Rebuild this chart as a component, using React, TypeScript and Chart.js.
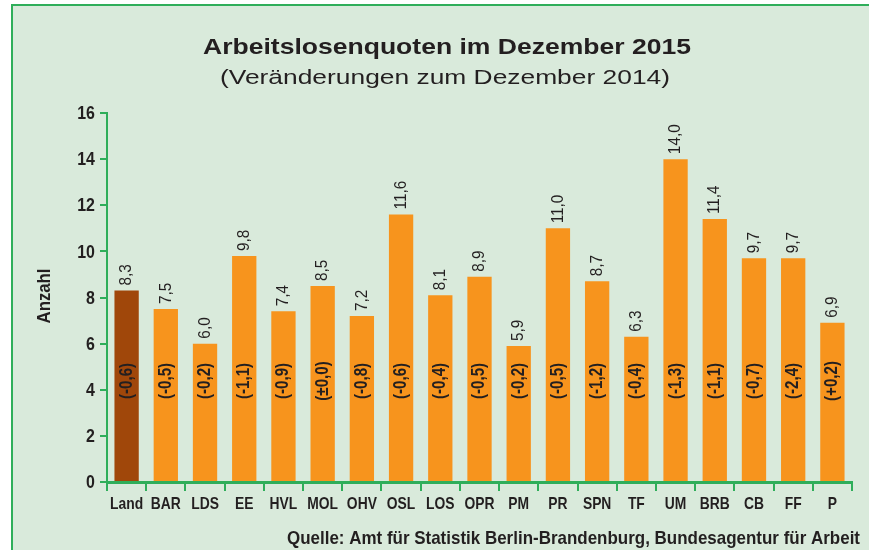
import React, { useEffect, useRef } from "react";
import { Chart, registerables } from "chart.js";

Chart.register(...registerables);

const categories = ["Land", "BAR", "LDS", "EE", "HVL", "MOL", "OHV", "OSL", "LOS", "OPR", "PM", "PR", "SPN", "TF", "UM", "BRB", "CB", "FF", "P"];
const quotes = [8.3, 7.5, 6.0, 9.8, 7.4, 8.5, 7.2, 11.6, 8.1, 8.9, 5.9, 11.0, 8.7, 6.3, 14.0, 11.4, 9.7, 9.7, 6.9];
const changes = ["(-0,6)", "(-0,5)", "(-0,2)", "(-1,1)", "(-0,9)", "(±0,0)", "(-0,8)", "(-0,6)", "(-0,4)", "(-0,5)", "(-0,2)", "(-0,5)", "(-1,2)", "(-0,4)", "(-1,3)", "(-1,1)", "(-0,7)", "(-2,4)", "(+0,2)"];
const yMin = 0;
const yMax = 16;
const yStep = 2;
const changeLabelLevel = 4.38;

const titleText = "Arbeitslosenquoten im Dezember 2015";
const subtitleText = "(Veränderungen zum Dezember 2014)";
const yTitle = "Anzahl";
const sourceText = "Quelle: Amt für Statistik Berlin-Brandenburg, Bundesagentur für Arbeit";

const SANS = "'Liberation Sans', Arial, Helvetica, sans-serif";
const TEXT = "#231f20";
const GREEN = "#2fae5a";
const BG = "#d9eadb";
const ORANGE = "#f7941d";
const BROWN = "#a0470a";
const NARROW = 0.84;

function fmt(v: number) {
  return v.toFixed(1).replace(".", ",");
}

function drawFitText(ctx: CanvasRenderingContext2D, text: string, font: string, x: number, baseline: number, targetWidth: number, align: "center" | "right") {
  ctx.save();
  ctx.font = font;
  const w = ctx.measureText(text).width;
  const sx = targetWidth / w;
  ctx.textBaseline = "alphabetic";
  ctx.textAlign = "left";
  const left = align === "center" ? x - targetWidth / 2 : x - targetWidth;
  ctx.translate(left, baseline);
  ctx.scale(sx, 1);
  ctx.fillStyle = TEXT;
  ctx.fillText(text, 0, 0);
  ctx.restore();
}

function drawNarrow(
  ctx: CanvasRenderingContext2D,
  text: string,
  font: string,
  x: number,
  y: number,
  align: CanvasTextAlign,
  baseline: CanvasTextBaseline,
  sx: number,
  rotated: boolean
) {
  ctx.save();
  ctx.translate(x, y);
  if (rotated) ctx.rotate(-Math.PI / 2);
  ctx.scale(sx, 1);
  ctx.font = font;
  ctx.fillStyle = TEXT;
  ctx.textAlign = align;
  ctx.textBaseline = baseline;
  ctx.fillText(text, 0, 0);
  ctx.restore();
}

const decorPlugin = {
  id: "decor",
  beforeDraw(chart: any) {
    const ctx = chart.ctx as CanvasRenderingContext2D;
    const W = chart.width;
    const H = chart.height;
    ctx.save();
    ctx.fillStyle = "#ffffff";
    ctx.fillRect(0, 0, W, H);
    ctx.fillStyle = BG;
    ctx.fillRect(12, 5, W - 12, H - 5);
    ctx.strokeStyle = GREEN;
    ctx.lineWidth = 2;
    ctx.beginPath();
    ctx.moveTo(12, H);
    ctx.lineTo(12, 5);
    ctx.lineTo(W, 5);
    ctx.stroke();
    ctx.restore();

    drawFitText(ctx, titleText, `bold 22px ${SANS}`, 447, 54, 488, "center");
    drawFitText(ctx, subtitleText, `21px ${SANS}`, 445, 84, 450, "center");
    drawFitText(ctx, sourceText, `bold 19px ${SANS}`, 860, 544, 573, "right");

    drawNarrow(ctx, yTitle, `bold 19px ${SANS}`, 45, 296, "center", "middle", 0.88, true);
  },
  afterDraw(chart: any) {
    const ctx = chart.ctx as CanvasRenderingContext2D;
    const xs = chart.scales.x;
    const ys = chart.scales.y;
    // x tick labels
    xs.ticks.forEach((t: any, i: number) => {
      const px = xs.getPixelForTick(i);
      drawNarrow(ctx, String(chart.data.labels[i]), `bold 16.5px ${SANS}`, px, 509, "center", "alphabetic", NARROW, false);
    });
    // y tick labels
    ys.ticks.forEach((t: any, i: number) => {
      const py = ys.getPixelForTick(i);
      drawNarrow(ctx, String(t.value), `bold 19px ${SANS}`, 95, py + 1, "right", "middle", NARROW, false);
    });
  },
  afterDatasetsDraw(chart: any) {
    const ctx = chart.ctx as CanvasRenderingContext2D;
    const meta = chart.getDatasetMeta(0);
    const yScale = chart.scales.y;
    const yc = yScale.getPixelForValue(changeLabelLevel);
    meta.data.forEach((bar: any, i: number) => {
      drawNarrow(ctx, fmt(quotes[i]), `17px ${SANS}`, bar.x, bar.y - 5, "left", "middle", 0.9, true);
      drawNarrow(ctx, changes[i], `bold 18px ${SANS}`, bar.x, yc, "center", "middle", NARROW, true);
    });
  },
};

export default function App() {
  const ref = useRef<HTMLCanvasElement | null>(null);
  useEffect(() => {
    if (!ref.current) return;
    const chart = new Chart(ref.current, {
      type: "bar",
      data: {
        labels: categories,
        datasets: [
          {
            data: quotes,
            backgroundColor: categories.map((_, i) => (i === 0 ? BROWN : ORANGE)),
            borderWidth: 0,
            barPercentage: 0.62,
            categoryPercentage: 1,
          },
        ],
      },
      options: {
        responsive: false,
        animation: false,
        devicePixelRatio: 1,
        layout: { padding: { top: 113, right: 17, bottom: 0, left: 0 } },
        plugins: { legend: { display: false }, tooltip: { enabled: false }, title: { display: false } },
        scales: {
          x: {
            afterFit: (s: any) => {
              s.height = 68;
            },
            grid: { drawOnChartArea: false, drawTicks: true, tickLength: 9, color: GREEN, lineWidth: 2, offset: true },
            border: { display: true, color: GREEN, width: 3 },
            ticks: { display: false, autoSkip: false, maxRotation: 0 },
          },
          y: {
            min: yMin,
            max: yMax,
            afterFit: (s: any) => {
              s.width = 107;
            },
            grid: { drawOnChartArea: false, drawTicks: true, tickLength: 7, color: GREEN, lineWidth: 2 },
            border: { display: true, color: GREEN, width: 2 },
            ticks: { display: false, stepSize: yStep },
          },
        },
      },
      plugins: [decorPlugin],
    } as any);
    return () => chart.destroy();
  }, []);
  return (
    <div style={{ position: "absolute", left: 0, top: 0, width: 869, height: 550 }}>
      <canvas ref={ref} width={869} height={550} style={{ display: "block", width: 869, height: 550 }} />
    </div>
  );
}
